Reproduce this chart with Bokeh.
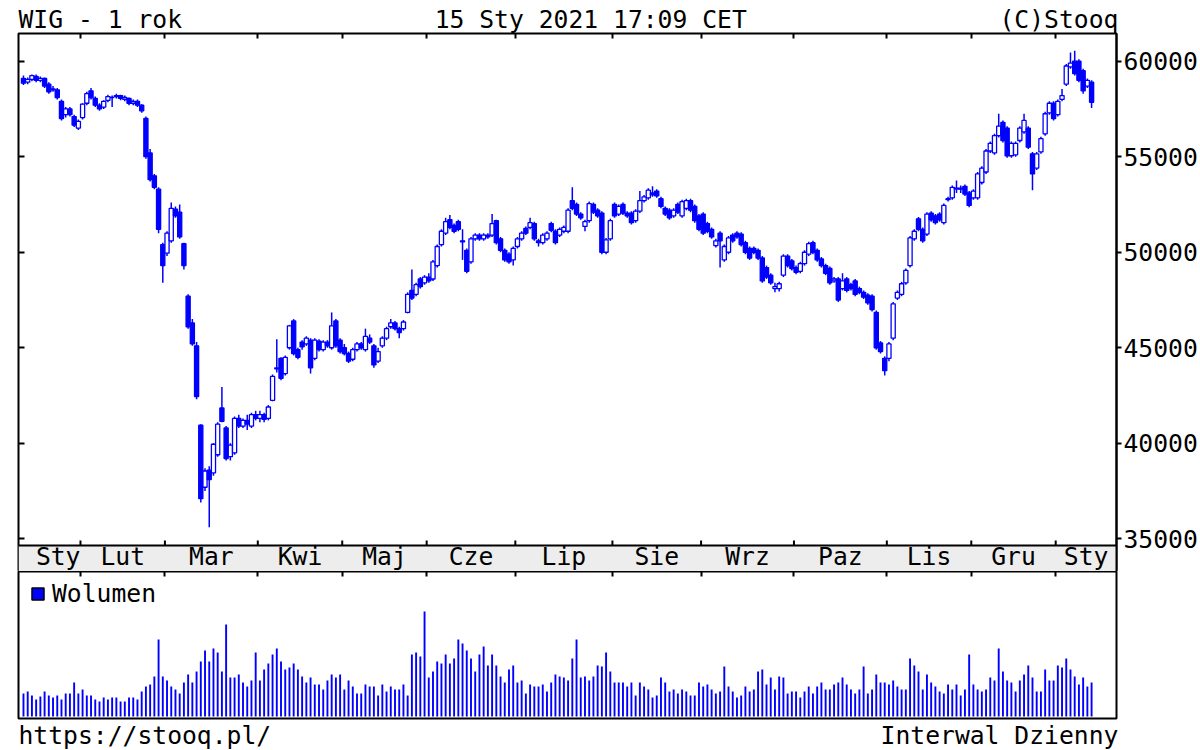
import numpy as np
from bokeh.plotting import figure
from bokeh.models import Range1d, FixedTicker, LinearAxis, Title, ColumnDataSource, BoxAnnotation, Span
from bokeh.layouts import column
from bokeh.embed import file_html
from bokeh.resources import INLINE
from bokeh.core.properties import value

# ---------------- data (WIG, daily, 14 Jan 2020 - 15 Jan 2021) ----------------
MONTH_LABELS = ["Sty", "Lut", "Mar", "Kwi", "Maj", "Cze", "Lip", "Sie", "Wrz", "Paz", "Lis", "Gru", "Sty"]
MONTH_DAYS = [14, 20, 22, 20, 20, 21, 23, 21, 22, 22, 20, 20, 9]
PRICE_TICKS = [35000, 40000, 45000, 50000, 55000, 60000]

OPEN = [
    59100, 58900, 59050, 59200, 59000, 59100, 58800, 58500, 58500, 57900, 57200, 57500, 57100, 56500,
    57050, 57800, 58450, 58050, 57700, 57600, 57950, 58100, 58150, 58200, 58000, 58050, 57800, 57900, 57700, 57000, 55200, 54000, 53300, 50400,
    49950, 50600, 52250, 52100, 50450, 47700, 46300, 45100, 40950, 37700, 38600, 38450, 39400, 41850, 40800, 39300, 39500, 41300, 40900, 41200, 40900, 41500,
    41300, 41500, 41300, 42250, 43900, 44450, 43650, 45000, 46400, 44900, 45300, 45200, 45400, 44450, 45350, 44900, 45300, 45000, 46400, 45400,
    45000, 44700, 44400, 44900, 45200, 44900, 45500, 45100, 44300, 45100, 45500, 46100, 46300, 46000, 46000, 46850, 48000, 47800, 48600, 48400,
    48700, 48600, 49300, 50400, 51000, 51700, 51400, 51600, 50600, 50100, 49500, 50700, 50900, 50700, 50900, 50900, 51650, 50700, 50100, 49900, 49600,
    50300, 50700, 51250, 51300, 51500, 50600, 50500, 50700, 51500, 51100, 50900, 51100, 51100, 52700, 52500, 52000, 51350, 51650, 52500, 52200, 52050, 50000, 50700,
    52500, 52000, 52500, 52050, 52050, 51650, 52150, 52700, 52850, 53100, 53200, 52800, 52300, 52200, 51900, 52500, 51900, 52300, 52700, 52400, 51900,
    52000, 51500, 51200, 50350, 51000, 49600, 50000, 50900, 51000, 50950, 50500, 50200, 50200, 50100, 49700, 49200, 48800, 48100, 48100, 48800, 49800, 49550,
    49200, 49000, 49400, 49900, 50500, 50100, 49650, 49300, 49150, 48500, 48600, 48100, 48600, 48300, 48500, 48100, 47900, 47750, 47700, 46850, 45250, 44450,
    44450, 45500, 47600, 47800, 48400, 49300, 50700, 51750, 51200, 50950, 52050, 51900, 52000, 51550, 52750, 52850, 53300, 53350, 53450, 53100,
    52850, 52850, 53650, 54200, 55300, 55200, 56100, 56800, 56500, 55050, 55100, 55850, 56300, 56500, 55150, 54400, 55250, 56200, 57300, 57800,
    57200, 58000, 58800, 59700, 60000, 60000, 59500, 58700, 58900,
]
HIGH = [
    59250, 59150, 59300, 59300, 59200, 59150, 58900, 58700, 58600, 58000, 57600, 57600, 57200, 56950,
    57800, 58400, 58600, 58150, 57800, 57950, 58250, 58200, 58300, 58250, 58200, 58100, 58000, 58000, 57750, 57100, 55400, 54100, 53400, 50500,
    51100, 52600, 52400, 52500, 50500, 47800, 46500, 45300, 41000, 38700, 38800, 40000, 41100, 42950, 40900, 40000, 41400, 41500, 41300, 41500, 41600, 41700,
    41700, 41600, 42000, 43600, 45450, 44500, 44600, 46200, 46500, 45000, 45400, 45600, 45500, 45500, 45450, 45400, 45400, 46850, 46500, 45500,
    45200, 44800, 45000, 45300, 45300, 46000, 45700, 45200, 45000, 45600, 46100, 46500, 46400, 46100, 46450, 47900, 49100, 48400, 48700, 48800,
    48900, 49600, 50400, 51200, 51800, 51950, 51500, 51700, 51200, 50200, 50800, 51000, 51000, 51000, 51000, 52000, 51700, 50800, 50200, 50000, 50300,
    50800, 51100, 51350, 51800, 51600, 50700, 51000, 51100, 51600, 51200, 51300, 51400, 52300, 53400, 52600, 52100, 51700, 52650, 52600, 52300, 52150, 50750, 51750,
    52600, 52500, 52600, 52150, 52150, 52250, 53200, 53000, 53350, 53450, 53300, 52900, 52400, 52300, 52300, 52600, 52750, 52800, 52800, 52500, 52000,
    52100, 51600, 51300, 50700, 51100, 50400, 50850, 51000, 51100, 51050, 50600, 50300, 50300, 50200, 49800, 49300, 48900, 48400, 48450, 49900, 49900, 49650,
    49300, 49500, 50100, 50550, 50600, 50200, 49750, 49400, 49250, 48700, 48700, 48900, 48700, 48400, 48600, 48200, 48000, 47850, 47800, 46950, 45350, 44550,
    45300, 47400, 48000, 48450, 49150, 50850, 51200, 51850, 51300, 52100, 52150, 52000, 52100, 52550, 52900, 53500, 53750, 53500, 53550, 53200,
    53300, 54200, 54500, 55400, 55800, 56200, 57250, 56900, 56600, 55800, 55800, 56600, 57250, 56600, 55250, 55250, 56050, 57350, 57900, 57900,
    58000, 58550, 59850, 60450, 60550, 60100, 59600, 59100, 59000,
]
LOW = [
    58750, 58800, 58950, 58900, 58900, 58600, 58300, 58400, 58000, 56900, 57050, 57100, 56550, 56400,
    56950, 57700, 58000, 57600, 57400, 57500, 57850, 57600, 58050, 57950, 57900, 57700, 57700, 57600, 57300, 54900, 53700, 53300, 51000, 48400,
    49800, 50500, 51800, 50700, 49100, 46000, 45100, 42300, 36900, 37500, 35600, 38300, 39300, 41100, 39100, 39100, 39400, 40800, 40800, 40700, 40800, 41200,
    41100, 41100, 41200, 42200, 43700, 43300, 43550, 44900, 44600, 44400, 44900, 45100, 43650, 44350, 44800, 44800, 45000, 44900, 45000, 44700,
    44600, 44200, 44300, 44800, 44900, 44800, 45200, 43950, 44200, 45000, 45400, 46000, 45900, 45500, 45900, 46800, 47500, 47700, 48100, 48300,
    48400, 48500, 49200, 50300, 50900, 51200, 51000, 51100, 49600, 48900, 49400, 50600, 50600, 50600, 50700, 50800, 50400, 50000, 49500, 49400, 49300,
    50200, 50600, 50900, 51200, 50600, 50300, 50400, 50600, 51050, 50400, 50800, 51000, 51000, 52200, 51900, 51700, 51100, 51550, 52000, 51800, 49900, 49900, 50600,
    51800, 51900, 51950, 51800, 51450, 51550, 52050, 52600, 52750, 52900, 52850, 52300, 51900, 51700, 51800, 52000, 51800, 52200, 52100, 51550, 51100,
    50900, 51000, 50700, 50250, 49200, 49500, 49900, 50500, 50700, 50300, 49900, 49600, 49900, 49600, 48400, 48600, 48300, 47900, 47950, 48700, 49200, 49050,
    48850, 48900, 49300, 49800, 49900, 49500, 49200, 48800, 48300, 48400, 47400, 48000, 47900, 48000, 47700, 47800, 47550, 47250, 46900, 44900, 44700, 43550,
    44300, 45400, 47500, 47700, 48300, 49200, 50600, 51100, 50500, 50850, 51600, 51450, 51600, 51450, 52650, 52750, 53100, 53100, 52950, 52350,
    52750, 52750, 53550, 54100, 55200, 55100, 56000, 55750, 54950, 54950, 55000, 55750, 56200, 55400, 53250, 54300, 55150, 56100, 57200, 56900,
    57100, 57900, 58700, 59600, 59250, 58900, 58300, 58600, 57550,
]
CLOSE = [
    58850, 59050, 59250, 59000, 59100, 58700, 58400, 58550, 58100, 57000, 57500, 57200, 56650, 56850,
    57750, 58300, 58100, 57700, 57500, 57900, 58150, 58100, 58200, 58050, 58100, 57800, 57900, 57700, 57400, 55000, 53800, 53400, 51200, 49300,
    51000, 52300, 51900, 50800, 49300, 46100, 45200, 42450, 37100, 38550, 38100, 39950, 41000, 41150, 39200, 39900, 41300, 40900, 41200, 41000, 41500, 41300,
    41500, 41250, 41900, 43500, 43950, 43400, 44500, 46150, 44700, 44500, 45050, 45500, 43950, 45400, 44900, 45300, 45100, 46150, 45100, 44800,
    44700, 44300, 44900, 45200, 45000, 45600, 45300, 44100, 44800, 45500, 46000, 46300, 46000, 45800, 46350, 47800, 47600, 48300, 48200, 48700,
    48500, 49500, 50300, 51100, 51600, 51300, 51100, 51200, 50550, 49000, 50700, 50900, 50700, 50900, 50800, 51500, 50500, 50100, 49600, 49500, 50200,
    50700, 51000, 51000, 51550, 50700, 50500, 50900, 51000, 51150, 50500, 51200, 51300, 52200, 52300, 52000, 51800, 51600, 52550, 52100, 51900, 50000, 50650, 51650,
    51900, 52400, 52050, 51900, 51550, 52150, 52700, 52900, 53250, 53000, 52950, 52400, 52000, 51800, 52200, 52100, 52650, 52700, 52200, 51650, 51200,
    51000, 51100, 50800, 50600, 50600, 50300, 50750, 50600, 50800, 50400, 50000, 49700, 50000, 49700, 48500, 48700, 48400, 48200, 48350, 49800, 49300, 49150,
    48950, 49400, 50000, 50450, 50000, 49600, 49300, 48900, 48400, 48600, 47500, 48500, 48000, 48100, 47800, 47900, 47650, 47350, 47000, 45000, 44800, 43800,
    45200, 47300, 47900, 48350, 49050, 50750, 51100, 51200, 50600, 52000, 51700, 51550, 51700, 52450, 52800, 53400, 53350, 53300, 53050, 52450,
    53200, 54100, 54400, 55300, 55700, 56100, 56600, 55850, 55050, 55700, 55700, 56500, 56900, 55500, 54100, 55150, 55950, 57250, 57800, 57000,
    57900, 58200, 59750, 59900, 59350, 59000, 58450, 59000, 57850,
]
# turnover, mln PLN
VOLUME = [
    920, 1000, 840, 680, 800, 1000, 840, 760, 840, 680, 920, 920, 1360, 920,
    1080, 840, 840, 680, 600, 760, 680, 760, 760, 600, 600, 760, 760, 680, 1000, 1200, 1280, 1600, 3080, 1600,
    1440, 1200, 1080, 920, 1360, 1680, 1360, 1800, 2200, 2640, 2200, 2720, 2560, 1800, 3680, 1560, 1560, 1680, 1360, 1200, 1440, 2560,
    1440, 1880, 2120, 2480, 2720, 2200, 1880, 1960, 2120, 1880, 1600, 1360, 1560, 1280, 1280, 1080, 1440, 1680, 1560, 1680,
    1080, 1440, 1200, 920, 920, 1280, 1200, 1200, 840, 1280, 1000, 1200, 1080, 1080, 1280, 840, 2480, 2560, 2400, 4200,
    1560, 1800, 2200, 2120, 2480, 2120, 2320, 3080, 2920, 2640, 2320, 1800, 2480, 2800, 2040, 2480, 2040, 1600, 1360, 1880, 2040,
    1360, 1440, 920, 1280, 1200, 1200, 1280, 1000, 1360, 1680, 1600, 1560, 1440, 2320, 3080, 1560, 1600, 1440, 1600, 2040, 2000, 2560, 1800,
    1360, 1360, 1360, 1200, 1360, 840, 1360, 1200, 1080, 760, 840, 1560, 1360, 1000, 1080, 920, 1080, 1000, 840, 840, 1360,
    1200, 1280, 1080, 920, 1000, 2000, 1200, 1000, 760, 840, 1200, 1000, 1080, 1800, 1880, 1280, 1560, 1080, 1600, 1560, 920, 1000,
    1000, 760, 1000, 1200, 920, 1200, 1360, 1080, 1080, 1280, 1360, 1560, 1280, 1080, 920, 1080, 2000, 920, 1080, 1680, 1360, 1360,
    1280, 1440, 1200, 1080, 1080, 2320, 2040, 1800, 1080, 1680, 1360, 1200, 1000, 920, 1280, 1080, 1280, 840, 1080, 2480,
    1280, 1080, 1000, 1080, 1560, 1440, 2720, 1800, 1440, 1360, 1000, 1440, 1680, 2040, 1560, 1000, 1000, 1880, 1440, 1440,
    2040, 1960, 2320, 1880, 1600, 1280, 1560, 1200, 1360,
]

TOP_LEFT = "WIG - 1 rok"
TOP_MID = "15 Sty 2021 17:09 CET"
TOP_RIGHT = "(C)Stooq"
BOTTOM_LEFT = "https://stooq.pl/"
BOTTOM_RIGHT = "Interwal Dzienny"
LEGEND = "Wolumen"

# ---------------- styling / layout ----------------
FONT = "DejaVu Sans Mono"
FS_PX = 24.7
FS = f"{FS_PX}px"
BLUE = "#0000ff"
STRIP_GRAY = "#ededed"
W = 1200
BL, BR = 18, 83
NB = "\u00a0"

Y_TOP = 61450          # value at top edge of the price frame
PRICE_FLOOR = 34650    # value at the bottom of the price area (top of month strip)
PRICE_PX = 512
STRIP_PX = 26
UPP = (Y_TOP - PRICE_FLOOR) / PRICE_PX          # price units per pixel
Y_START = PRICE_FLOOR - STRIP_PX * UPP

VOL_UPP = 40           # mln PLN per pixel in the volume panel
VOL_PX = 147

n = len(CLOSE)
xs = list(range(n))
starts = np.cumsum([0] + MONTH_DAYS[:-1]).tolist()
edges = [s - 0.5 for s in starts[1:]]
X0, X1 = -1.18, 258.9
x_range = Range1d(X0, X1)


def mute_labels(ax):
    ax.major_label_text_color = None
    ax.major_label_text_font_size = "1px"
    ax.major_label_standoff = 0
    ax.minor_tick_line_color = None
    ax.axis_line_color = None
    ax.major_tick_line_color = "black"
    ax.major_tick_line_width = 2


# ---- price panel with month strip ----
top_text = TOP_LEFT + NB * 17 + TOP_MID + NB * 17 + TOP_RIGHT
p = figure(width=W, height=33 + PRICE_PX + STRIP_PX, x_range=x_range, y_range=Range1d(Y_START, Y_TOP),
           x_axis_location="above", y_axis_location="right",
           output_backend="svg", toolbar_location=None,
           min_border_left=BL, min_border_right=BR, min_border_top=33, min_border_bottom=0,
           title=top_text)
p.title.align = "left"
p.title.text_font = FONT
p.title.text_font_size = FS
p.title.text_font_style = "normal"
p.title.text_color = "black"
p.title.standoff = 0
p.title.offset = 0

p.xaxis.ticker = FixedTicker(ticks=edges)
p.xaxis.major_tick_in = 5
p.xaxis.major_tick_out = 0
mute_labels(p.xaxis[0])

ya = p.yaxis[0]
ya.ticker = FixedTicker(ticks=PRICE_TICKS)
ya.major_tick_out = 5
ya.major_tick_in = 0
ya.minor_tick_line_color = None
ya.major_tick_line_width = 2
ya.axis_line_width = 2
ya.axis_line_color = "black"
ya.major_label_text_font = FONT
ya.major_label_text_font_size = FS
ya.major_label_text_color = "black"
ya.major_label_standoff = 2

la = LinearAxis(ticker=FixedTicker(ticks=PRICE_TICKS), major_tick_in=6, major_tick_out=0)
mute_labels(la)
p.add_layout(la, "left")

p.grid.visible = False
p.outline_line_color = "black"
p.outline_line_width = 2
p.outline_line_alpha = 1

body_top = [max(o, c) for o, c in zip(OPEN, CLOSE)]
body_bot = [min(o, c) for o, c in zip(OPEN, CLOSE)]
fills = ["white" if c > o else BLUE for o, c in zip(OPEN, CLOSE)]
src = ColumnDataSource(dict(x=xs, high=HIGH, low=LOW, top=body_top, bottom=body_bot, fill=fills))
p.segment(x0="x", y0="low", x1="x", y1="high", source=src, line_color=BLUE, line_width=1.5)
p.vbar(x="x", width=0.98, top="top", bottom="bottom", source=src,
       fill_color="fill", line_color=BLUE, line_width=1.3)

# month strip (grey band under the price area)
p.add_layout(BoxAnnotation(top=PRICE_FLOOR, fill_color=STRIP_GRAY, fill_alpha=1,
                           line_color=None, level="underlay"))
p.add_layout(Span(location=PRICE_FLOOR, dimension="width", line_color="black", line_width=2))
p.segment(x0=edges, x1=edges, y0=[PRICE_FLOOR] * len(edges), y1=[PRICE_FLOOR + 5 * UPP] * len(edges),
          line_color="black", line_width=2)

px_per_idx = (W - BL - BR) / (X1 - X0)
half_label = 1.5 * 0.602 * FS_PX / px_per_idx
bounds = [X0] + edges + [X1]
label_x = [(bounds[k] + bounds[k + 1]) / 2 for k in range(len(MONTH_LABELS))]
label_x[0] = edges[0] - half_label
p.text(x=label_x, y=[PRICE_FLOOR - (0.5 * STRIP_PX - 2) * UPP] * len(label_x), text=MONTH_LABELS,
       text_font=value(FONT), text_font_size=value(FS), text_color="black",
       text_align="center", text_baseline="middle")

# ---- volume panel ----
v = figure(width=W, height=VOL_PX + 32, x_range=x_range,
           y_range=Range1d(-2 * VOL_UPP, (VOL_PX - 2) * VOL_UPP),
           x_axis_location="above", y_axis_location=None, title=None,
           output_backend="svg", toolbar_location=None,
           min_border_left=BL, min_border_right=BR, min_border_top=0, min_border_bottom=32)
v.xaxis.ticker = FixedTicker(ticks=edges)
v.xaxis.major_tick_in = 5
v.xaxis.major_tick_out = 0
mute_labels(v.xaxis[0])
v.grid.visible = False
v.outline_line_color = "black"
v.outline_line_width = 2
v.vbar(x=xs, top=VOLUME, width=0.45, fill_color=BLUE, line_color=None)

# legend swatch (no drawable geometry, only used for the legend entry)
nan = float("nan")
leg_src = ColumnDataSource(dict(left=[nan], right=[nan], top=[nan], bottom=[nan]))
v.quad(left="left", right="right", top="top", bottom="bottom", source=leg_src,
       fill_color=BLUE, line_color="black", line_width=1.5, legend_label=LEGEND)
lg = v.legend[0]
LEG_H = 30
lg.location = (12, VOL_PX - 7 - LEG_H)
lg.margin = 0
lg.padding = 0
lg.spacing = 0
lg.glyph_width = 15
lg.glyph_height = 15
lg.label_height = LEG_H
lg.label_standoff = 7
lg.label_text_font = FONT
lg.label_text_font_size = FS
lg.label_text_color = "black"
lg.border_line_color = None
lg.background_fill_alpha = 0

bottom_text = BOTTOM_LEFT + NB * 41 + BOTTOM_RIGHT
v.add_layout(Title(text=bottom_text, align="left", text_font=FONT, text_font_size=FS,
                   text_font_style="normal", text_color="black", standoff=0), "below")

layout = column(p, v, spacing=0)
open("out.html", "w").write(file_html(layout, INLINE))
